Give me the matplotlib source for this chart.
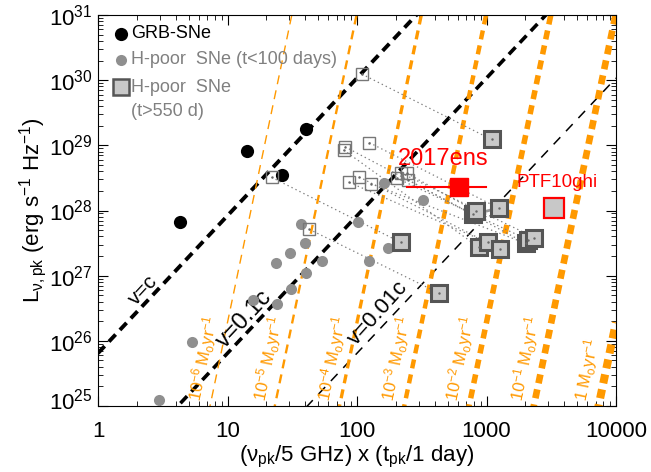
import numpy as np
import matplotlib
matplotlib.use('Agg')
import matplotlib.pyplot as plt
from matplotlib.ticker import FixedLocator, FixedFormatter, LogLocator, NullFormatter, LogFormatterMathtext
from matplotlib.transforms import ScaledTranslation

plt.rcParams['font.family'] = ['Liberation Sans', 'DejaVu Sans']
plt.rcParams['mathtext.fontset'] = 'custom'
plt.rcParams['mathtext.rm'] = 'Liberation Sans'
plt.rcParams['mathtext.it'] = 'Liberation Sans:italic'
plt.rcParams['mathtext.bf'] = 'Liberation Sans:bold'
plt.rcParams['lines.scale_dashes'] = False

ORANGE = '#ff9900'
GREY = '#8f8f8f'
DARK = '#555555'
FILL = '#c8c8c8'

# GRB-SNe
grb_x = [4.3, 14.2, 26.2, 40.2]
grb_L = [6.7e27, 8.3e28, 3.5e28, 1.8e29]

# H-poor SNe, t < 100 days
hp_x = [2.97, 5.35, 15.6, 24.0, 30.8, 40.2, 23.7, 30.4, 39.9, 53.7, 36.9,
        101, 124, 173, 163, 322]
hp_L = [1.24e25, 9.7e25, 4.16e26, 3.67e26, 6.18e26, 1.08e27, 1.58e27, 2.25e27,
        3.12e27, 1.68e27, 6.1e27, 6.7e27, 1.70e27, 2.63e27, 2.61e28, 1.43e28]

# H-poor SNe, earlier epochs (open squares)
open_x = [109, 80.8, 78.7, 124.5, 87.5, 104, 127.6, 202, 219, 243, 248, 21.9, 42.8]
open_L = [1.24e30, 9.5e28, 8.5e28, 1.10e29, 2.69e28, 3.27e28, 2.59e28,
          3.15e28, 3.76e28, 3.72e28, 2.94e28, 3.23e28, 5.14e27]

# H-poor SNe, t > 550 d (filled squares)
late_x = [1093, 791, 875, 1238, 1018, 1271, 2018, 2110, 2347, 830, 217, 432]
late_L = [1.23e29, 8.7e27, 2.71e27, 1.09e28, 3.23e27, 2.57e27, 3.12e27,
          3.52e27, 3.85e27, 9.7e27, 3.25e27, 5.36e26]

# which open square joins which late square
links = [(0, 0), (1, 1), (2, 2), (3, 3), (4, 4), (5, 5), (6, 6), (7, 7),
         (8, 8), (9, 9), (10, 6), (11, 10), (12, 11)]

# SN 2017ens and PTF10ghi
ens_x, ens_L, ens_xlo, ens_xhi = 617, 2.27e28, 245, 986
ptf_x, ptf_L = 3337, 1.08e28

# shock velocity lines: L ~ (v nu t)^(19/9)
v_frac = [1.0, 0.1, 0.01]
v_lw = [2.8, 2.6, 1.1]
v_dash = [(7, 4.5), (7, 4.5), (7, 6)]
logL_c_at1 = 25.81

# mass-loss lines: L ~ (nu t)^(19/2) Mdot^(-19/4)
mdot_exp = [-6, -5, -4, -3, -2, -1, 0]
mdot_lw = [1.0, 1.7, 2.4, 3.2, 4.0, 4.8, 5.8]
logx_mdot6 = 0.865  # 1e-6 Msun/yr line hits 1e25 here
mdot_labels = ['10$^{-6}$ M$_{\\rm o}$yr$^{-1}$', '10$^{-5}$ M$_{\\rm o}$yr$^{-1}$',
               '10$^{-4}$ M$_{\\rm o}$yr$^{-1}$', '10$^{-3}$ M$_{\\rm o}$yr$^{-1}$',
               '10$^{-2}$ M$_{\\rm o}$yr$^{-1}$', '10$^{-1}$ M$_{\\rm o}$yr$^{-1}$',
               '1 M$_{\\rm o}$yr$^{-1}$']

fig = plt.figure(figsize=(6.51, 4.72), dpi=100)
ax = fig.add_axes([98 / 651, 1 - 406 / 472, 518 / 651, 391 / 472])
ax.set_xscale('log')
ax.set_yscale('log')
ax.set_xlim(1, 1e4)
ax.set_ylim(1e25, 1e31)

xx = np.logspace(0, 4, 400)
for v, lw, ds in zip(v_frac, v_lw, v_dash):
    yy = 10 ** (logL_c_at1 + 19 / 9 * (np.log10(xx) + np.log10(v)))
    ax.plot(xx, yy, color='black', lw=lw, dashes=ds, zorder=2)

for k, lw, lab in zip(mdot_exp, mdot_lw, mdot_labels):
    lx0 = logx_mdot6 + 0.5 * (k + 6)
    yy = 10 ** (25 + 9.5 * (np.log10(xx) - lx0))
    ax.plot(xx, yy, color=ORANGE, lw=lw, dashes=(6.5, 4.5), zorder=2)
    xa = 10 ** (lx0 + 0.04 / 9.5)
    ax.annotate(lab, xy=(xa, 10 ** 25.04), xytext=(-(lw / 2 + 2.5), 0),
                textcoords='offset points', rotation=78.2, rotation_mode='anchor',
                ha='left', va='bottom', color=ORANGE, fontsize=12, zorder=3)

ax.text(2.23, 6.0e26, 'v=c', rotation=47, ha='center', va='center', fontsize=15)
ax.text(13.6, 2.16e26, 'v=0.1c', rotation=47, ha='center', va='center', fontsize=17)
ax.text(145, 2.67e26, 'v=0.01c', rotation=48, ha='center', va='center', fontsize=16)

# dotted links between epochs
for i, j in links:
    ax.plot([open_x[i], late_x[j]], [open_L[i], late_L[j]], color='#808080',
            lw=0.9, dashes=(1, 2.2), zorder=3)
ax.plot([late_x[1], late_x[3]], [late_L[1], late_L[3]], color='#999999', lw=2, zorder=3)

ax.plot(grb_x, grb_L, 'o', color='black', ms=9.5, mec='none', zorder=5)
ax.plot(hp_x, hp_L, 'o', color=GREY, ms=8, mec='none', zorder=5)
ax.plot(open_x, open_L, 's', mfc='none', mec='#777777', mew=1.0, ms=9, zorder=5)
ax.plot(open_x, open_L, '.', color='#666666', ms=1.5, zorder=5)
ax.plot(late_x, late_L, 's', mfc=FILL, mec=DARK, mew=2.2, ms=12, zorder=6)
ax.plot(late_x, late_L, '.', color='#666666', ms=1.5, zorder=6)

ax.plot([ens_xlo, ens_xhi], [ens_L, ens_L], color='red', lw=1.5, zorder=7)
ax.plot([ens_x], [ens_L], 's', color='red', ms=13.5, zorder=8)
ax.text(461, 6.2e28, '2017ens', color='red', fontsize=17, ha='center', va='center', zorder=9)
ax.plot([ptf_x], [ptf_L], 's', mfc=FILL, mec='red', mew=1.6, ms=14, zorder=8)
ax.text(3500, 2.73e28, 'PTF10ghi', color='red', fontsize=13.5, ha='center', va='center', zorder=9)

# legend
tr = ax.transAxes
ax.plot([0.044], [0.952], 'o', color='black', ms=9.5, mec='none', transform=tr)
ax.plot([0.044], [0.885], 'o', color=GREY, ms=8, mec='none', transform=tr)
ax.plot([0.044], [0.815], 's', mfc=FILL, mec=DARK, mew=1.8, ms=11, transform=tr)
ax.text(0.064, 0.952, 'GRB-SNe', color='black', fontsize=13, va='center', transform=tr)
ax.text(0.064, 0.885, 'H-poor  SNe (t<100 days)', color='#808080', fontsize=13,
        va='center', transform=tr)
ax.text(0.064, 0.815, 'H-poor  SNe', color='#808080', fontsize=13, va='center', transform=tr)
ax.text(0.064, 0.753, '(t>550 d)', color='#808080', fontsize=13, va='center', transform=tr)

ax.xaxis.set_major_locator(FixedLocator([1, 10, 100, 1000, 10000]))
ax.xaxis.set_major_formatter(FixedFormatter(['1', '10', '100', '1000', '10000']))
ax.xaxis.set_minor_locator(LogLocator(base=10, subs=np.arange(2, 10)))
ax.xaxis.set_minor_formatter(NullFormatter())
ax.yaxis.set_major_locator(FixedLocator([1e25, 1e26, 1e27, 1e28, 1e29, 1e30, 1e31]))
ax.yaxis.set_major_formatter(LogFormatterMathtext())
ax.yaxis.set_minor_locator(LogLocator(base=10, subs=np.arange(2, 10), numticks=20))
ax.yaxis.set_minor_formatter(NullFormatter())
ax.tick_params(which='both', direction='in', top=True, right=True, labelsize=16)
ax.tick_params(which='major', length=7)
ax.tick_params(which='minor', length=3.5)
ax.tick_params(axis='x', pad=11)
ax.tick_params(axis='y', pad=4)

# bottom y label sits a bit higher, as in the original
yt = ax.yaxis.get_major_ticks()
yt[0].label1.set_transform(yt[0].label1.get_transform()
                           + ScaledTranslation(0, 5 / 72, fig.dpi_scale_trans))

ax.set_xlabel('(ν$_{\\rm pk}$/5 GHz) x (t$_{\\rm pk}$/1 day)', fontsize=16, labelpad=1)
ax.set_ylabel('L$_{\\rm ν,pk}$ (erg s$^{-1}$ Hz$^{-1}$)', fontsize=16, labelpad=0)

fig.savefig('out.png', dpi=100)
